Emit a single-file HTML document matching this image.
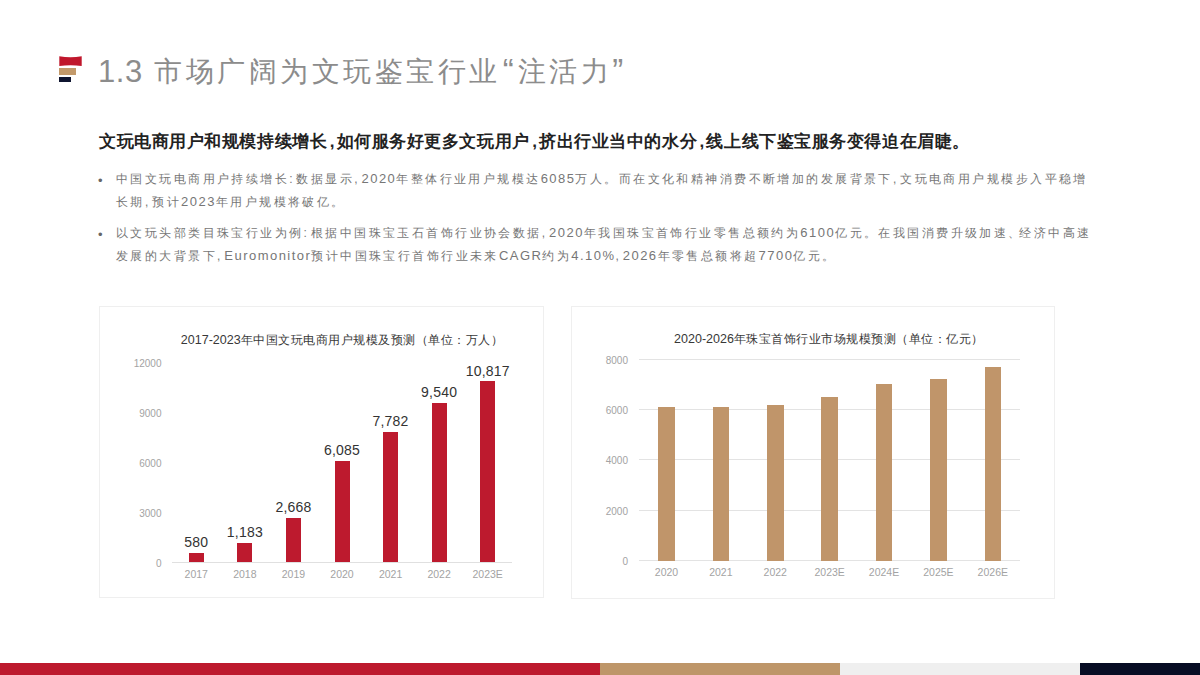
<!DOCTYPE html><html><head><meta charset="utf-8"><style>
*{margin:0;padding:0;box-sizing:border-box}
html,body{width:1200px;height:675px;overflow:hidden;background:#fff;font-family:"Liberation Sans", sans-serif}
.a{position:absolute;white-space:nowrap}
.bar{position:absolute}
.hc{margin:0 1.5px 0 2.5px}
.cn{font-size:12.5px;letter-spacing:0}
.n{font-size:13px;letter-spacing:1.47px}
.p{letter-spacing:3.96px}
.q{letter-spacing:-1px}
.card{position:absolute;border:1px solid #efefef;background:#fff}
.yl{position:absolute;font-size:10px;color:#a3a3a3;text-align:right;width:40px;line-height:12px}
.xl{position:absolute;font-size:10.5px;color:#a3a3a3;text-align:center;width:60px;line-height:12px}
.vl{position:absolute;font-size:14px;color:#333;text-align:center;width:80px;line-height:16px}
.ct{position:absolute;font-size:12px;font-weight:500;letter-spacing:0.5px;color:#383838;text-align:center;width:400px;line-height:16px}
</style></head><body>
<svg class="bar" style="left:0;top:0" width="100" height="100" viewBox="0 0 100 100"><path d="M59.3 56.3 Q70.5 58.2 81.7 56.3 L81.7 66 Q70.5 64.3 59.3 66 Z" fill="#c0172c"/></svg>
<div class="bar" style="left:59px;top:68px;width:17px;height:7px;background:#c39a6b"></div>
<div class="bar" style="left:59.3px;top:77.2px;width:11.7px;height:4.4px;background:#0f1530"></div>
<div class="a" style="left:98px;top:53px;font-size:28px;line-height:36px;color:#8c8c8c;letter-spacing:3.5px"><span style="font-size:31px;letter-spacing:0.6px;vertical-align:-0.5px">1.3</span> 市场广阔为文玩鉴宝行业<span style="font-size:33px;letter-spacing:4px;margin-left:2px;vertical-align:-1px">“</span>注活力<span style="font-size:33px;vertical-align:-1px">”</span></div>
<div class="a" style="left:99px;top:130px;font-size:17px;line-height:24px;color:#222;font-weight:bold;letter-spacing:0.56px">文玩电商用户和规模持续增长<span class="hc">,</span>如何服务好更多文玩用户<span class="hc">,</span>挤出行业当中的水分<span class="hc">,</span>线上线下鉴宝服务变得迫在眉睫。</div>
<div class="a" style="left:98px;top:169.5px;font-size:13px;line-height:22px;color:#666">•</div>
<div class="a" style="left:116px;top:168px;font-size:12px;line-height:22.5px;color:#767676;letter-spacing:2.43px">中国文玩电商用户持续增长<span class="p">:</span>数据显示<span class="p">,</span><span class="n">2020</span>年整体行业用户规模达<span class="n">6085</span>万人。而在文化和精神消费不断增加的发展背景下<span class="p">,</span>文玩电商用户规模步入平稳增<br>长期<span class="p">,</span>预计<span class="n">2023</span>年用户规模将破亿。</div>
<div class="a" style="left:98px;top:223.5px;font-size:13px;line-height:22px;color:#666">•</div>
<div class="a" style="left:116px;top:222px;font-size:12px;line-height:22.5px;color:#767676;letter-spacing:2.43px">以文玩头部类目珠宝行业为例<span class="p">:</span>根据中国珠宝玉石首饰行业协会数据<span class="p">,</span><span class="n">2020</span>年我国珠宝首饰行业零售总额约为<span class="n">6100</span>亿元。在我国消费升级加速<span class="q">、</span>经济中高速<br>发展的大背景下<span class="p">,</span><span class="n">Euromonitor</span>预计中国珠宝行首饰行业未来<span class="n">CAGR</span>约为<span class="n">4.10%</span><span class="p">,</span><span class="n">2026</span>年零售总额将超<span class="n">7700</span>亿元。</div>
<div class="card" style="left:99px;top:306px;width:445px;height:292px"></div>
<div class="card" style="left:571px;top:306px;width:484px;height:293px"></div>
<div class="ct" style="left:142px;top:332px"><span class="cn">2017-2023</span>年中国文玩电商用户规模及预测（单位：万人）</div>
<div class="yl" style="left:121.5px;top:357.5px">12000</div>
<div class="yl" style="left:121.5px;top:407.5px">9000</div>
<div class="yl" style="left:121.5px;top:457.5px">6000</div>
<div class="yl" style="left:121.5px;top:507.5px">3000</div>
<div class="yl" style="left:121.5px;top:557.5px">0</div>
<div class="bar" style="left:172px;top:562.0px;width:340px;height:1px;background:#e0e0e0"></div>
<div class="bar" style="left:188.79px;top:552.78px;width:15px;height:9.71px;background:#bd1a2e"></div>
<div class="vl" style="left:156.29px;top:533.99px;letter-spacing:0.2px">580</div>
<div class="xl" style="left:166.29px;top:568.3px">2017</div>
<div class="bar" style="left:237.36px;top:542.68px;width:15px;height:19.82px;background:#bd1a2e"></div>
<div class="vl" style="left:204.86px;top:523.88px;letter-spacing:0.2px">1,183</div>
<div class="xl" style="left:214.86px;top:568.3px">2018</div>
<div class="bar" style="left:285.93px;top:517.81px;width:15px;height:44.69px;background:#bd1a2e"></div>
<div class="vl" style="left:253.43px;top:499.01px;letter-spacing:0.2px">2,668</div>
<div class="xl" style="left:263.43px;top:568.3px">2019</div>
<div class="bar" style="left:334.50px;top:460.58px;width:15px;height:101.92px;background:#bd1a2e"></div>
<div class="vl" style="left:302.00px;top:441.78px;letter-spacing:0.2px">6,085</div>
<div class="xl" style="left:312.00px;top:568.3px">2020</div>
<div class="bar" style="left:383.07px;top:432.15px;width:15px;height:130.35px;background:#bd1a2e"></div>
<div class="vl" style="left:350.57px;top:413.35px;letter-spacing:0.2px">7,782</div>
<div class="xl" style="left:360.57px;top:568.3px">2021</div>
<div class="bar" style="left:431.64px;top:402.71px;width:15px;height:159.79px;background:#bd1a2e"></div>
<div class="vl" style="left:399.14px;top:383.91px;letter-spacing:0.2px">9,540</div>
<div class="xl" style="left:409.14px;top:568.3px">2022</div>
<div class="bar" style="left:480.21px;top:381.32px;width:15px;height:181.18px;background:#bd1a2e"></div>
<div class="vl" style="left:447.71px;top:362.52px;letter-spacing:0.2px">10,817</div>
<div class="xl" style="left:457.71px;top:568.3px">2023E</div>
<div class="ct" style="left:629px;top:331px"><span class="cn">2020-2026</span>年珠宝首饰行业市场规模预测（单位：亿元）</div>
<div class="yl" style="left:588px;top:354.75px">8000</div>
<div class="bar" style="left:639.3px;top:358.75px;width:380.70px;height:1px;background:#e3e3e3"></div>
<div class="yl" style="left:588px;top:405.09px">6000</div>
<div class="bar" style="left:639.3px;top:409.09px;width:380.70px;height:1px;background:#e3e3e3"></div>
<div class="yl" style="left:588px;top:455.43px">4000</div>
<div class="bar" style="left:639.3px;top:459.43px;width:380.70px;height:1px;background:#e3e3e3"></div>
<div class="yl" style="left:588px;top:505.76px">2000</div>
<div class="bar" style="left:639.3px;top:509.76px;width:380.70px;height:1px;background:#e3e3e3"></div>
<div class="yl" style="left:588px;top:556.10px">0</div>
<div class="bar" style="left:639.3px;top:560.10px;width:380.70px;height:1px;background:#e3e3e3"></div>
<div class="bar" style="left:658.24px;top:407.07px;width:16.5px;height:153.53px;background:#c0956a"></div>
<div class="xl" style="left:636.49px;top:565.5px">2020</div>
<div class="bar" style="left:712.63px;top:407.07px;width:16.5px;height:153.53px;background:#c0956a"></div>
<div class="xl" style="left:690.88px;top:565.5px">2021</div>
<div class="bar" style="left:767.01px;top:404.55px;width:16.5px;height:156.05px;background:#c0956a"></div>
<div class="xl" style="left:745.26px;top:565.5px">2022</div>
<div class="bar" style="left:821.40px;top:397.00px;width:16.5px;height:163.60px;background:#c0956a"></div>
<div class="xl" style="left:799.65px;top:565.5px">2023E</div>
<div class="bar" style="left:875.79px;top:384.42px;width:16.5px;height:176.18px;background:#c0956a"></div>
<div class="xl" style="left:854.04px;top:565.5px">2024E</div>
<div class="bar" style="left:930.17px;top:379.38px;width:16.5px;height:181.22px;background:#c0956a"></div>
<div class="xl" style="left:908.42px;top:565.5px">2025E</div>
<div class="bar" style="left:984.56px;top:366.80px;width:16.5px;height:193.80px;background:#c0956a"></div>
<div class="xl" style="left:962.81px;top:565.5px">2026E</div>
<div class="bar" style="left:0;top:663px;width:600px;height:12px;background:#bd1a2e"></div>
<div class="bar" style="left:600px;top:663px;width:240px;height:12px;background:#be9669"></div>
<div class="bar" style="left:840px;top:663px;width:240px;height:12px;background:#efefef"></div>
<div class="bar" style="left:1080px;top:663px;width:120px;height:12px;background:#070c24"></div>
</body></html>
